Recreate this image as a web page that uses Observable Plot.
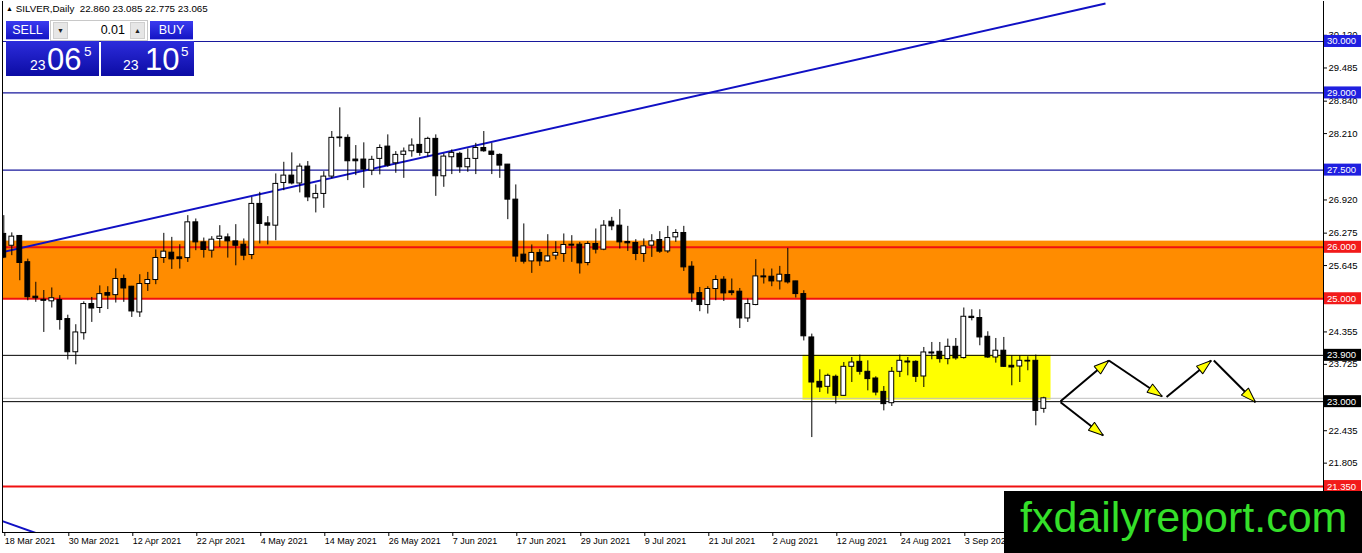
<!DOCTYPE html>
<html>
<head>
<meta charset="utf-8">
<script src="https://cdn.jsdelivr.net/npm/d3@7"></script>
<script src="https://cdn.jsdelivr.net/npm/@observablehq/plot@0.6"></script>
<style>
  body { margin: 0; background: #fff; font-family: "Liberation Sans", Arial, sans-serif; }
  #wrap { position: relative; width: 1362px; height: 553px; overflow: hidden; }
  #title { position: absolute; left: 6px; top: 3px; font-size: 9.8px; line-height: 12px; color: #000; white-space: pre; }
  #title .tri { font-size: 7px; vertical-align: 1px; }
  .btn { position: absolute; top: 21px; width: 43px; height: 18px; color: #fff; font-size: 12.5px; line-height: 18px;
         text-align: center; background: linear-gradient(#3b3bf0, #1414c4); border-bottom: 1px solid #a8a8f4; }
  #spin { position: absolute; left: 50px; top: 20px; width: 98px; height: 21px; background: #fff;
          border: 1px solid #c8c8c8; box-sizing: border-box; }
  #spin .b { position: absolute; top: 1px; width: 15px; height: 17px; background: #e6e6e6; border: 1px solid #cfcfcf;
             box-sizing: border-box; font-size: 7px; line-height: 15px; text-align: center; color: #222; }
  #spin .v { position: absolute; right: 22px; top: 1px; font-size: 12.5px; line-height: 17px; color: #000; }
  .price { position: absolute; top: 41px; width: 93px; height: 35px; color: #fff;
           background: linear-gradient(#2c2cdc, #0c0ca4); }
  .price span { position: absolute; line-height: 1; white-space: pre; }
  .price .s { font-size: 14px; top: 17px; }
  .price .m { font-size: 31px; top: 3px; }
  .price .p { font-size: 13.5px; top: 4px; }
  #brand { position: absolute; left: 1004px; top: 491px; width: 358px; height: 62px; background: #000; }
  #brand span { position: absolute; left: 16px; top: 5px; font-size: 43px; line-height: 1; color: #35e02a; white-space: pre; }
</style>
</head>
<body>
<div id="wrap">
  <div id="chart"></div>
  <div id="title"></div>
  <div class="btn" style="left:6px">SELL</div>
  <div id="spin">
    <div class="b" style="left:2px">&#9660;</div>
    <div class="v">0.01</div>
    <div class="b" style="right:2px">&#9650;</div>
  </div>
  <div class="btn" style="left:150px">BUY</div>
  <div class="price" id="bidBox" style="left:6px"></div>
  <div class="price" id="askBox" style="left:101px"></div>
  <div id="brand"><span>fxdailyreport.com</span></div>
</div>
<script>
// SILVER daily bars, 18 Mar 2021 -> 16 Sep 2021 (bar index = position in arrays)
const barOpen = [
  26.26, 26.03, 26.22, 25.71, 25.04, 24.98, 24.95, 24.975, 24.605, 23.96,
  24.33, 24.897, 24.82, 25.11, 25.07, 25.384, 25.234, 24.734, 25.286, 25.364,
  25.792, 25.895, 25.804, 25.79, 26.485, 26.096, 25.934, 26.162, 26.193, 26.115,
  26.05, 25.85, 26.843, 26.465, 26.42, 27.25, 27.393, 27.24, 27.568, 26.952,
  27.037, 27.374, 28.12, 28.127, 27.705, 27.705, 27.49, 27.718, 27.957, 27.633,
  27.796, 27.866, 27.99, 27.835, 28.107, 27.38, 27.75, 27.816, 27.555, 27.718,
  27.93, 27.86, 27.796, 27.607, 26.926, 25.857, 25.726, 25.89, 25.726, 25.837,
  25.87, 26.051, 26.051, 25.695, 26.064, 25.954, 26.498, 26.42, 26.103, 26.084,
  25.87, 26.032, 26.142, 25.92, 26.193, 26.278, 25.623, 25.11, 24.878, 25.189,
  25.37, 25.143, 25.137, 24.617, 24.878, 25.434, 25.428, 25.337, 25.461, 25.337,
  25.091, 24.248, 23.385, 23.288, 23.483, 23.113, 23.677, 23.774, 23.58, 23.45,
  23.19, 22.97, 23.58, 23.78, 23.774, 23.489, 23.956, 23.969, 23.827, 24.066,
  23.847, 24.65, 24.625, 24.261, 23.858, 23.99, 23.697, 23.683, 23.794, 23.794,
  22.86
];
const barHigh = [
  26.615, 26.28, 26.23, 25.77, 25.32, 25.16, 25.21, 25.06, 24.68, 24.495,
  24.94, 25.025, 25.25, 25.234, 25.58, 25.46, 25.24, 25.467, 25.512, 25.948,
  26.271, 26.193, 26.05, 26.615, 26.55, 26.18, 26.207, 26.42, 26.259, 26.44,
  26.162, 26.97, 27.068, 26.596, 27.426, 27.652, 27.835, 27.62, 27.666, 27.212,
  27.47, 28.25, 28.71, 28.185, 27.977, 28.03, 27.769, 27.99, 28.185, 27.86,
  27.93, 28.107, 28.516, 28.139, 28.185, 27.816, 27.893, 27.847, 27.912, 28.02,
  28.25, 28.02, 27.816, 27.61, 27.212, 26.454, 26.045, 25.954, 26.245, 26.109,
  26.259, 26.226, 26.096, 26.109, 26.356, 26.518, 26.582, 26.732, 26.407, 26.148,
  26.162, 26.245, 26.304, 26.407, 26.343, 26.407, 25.72, 25.22, 25.234, 25.448,
  25.428, 25.384, 25.2, 24.995, 25.759, 25.578, 25.578, 25.629, 25.979, 25.34,
  25.156, 24.313, 23.619, 23.535, 23.516, 23.761, 23.858, 23.905, 23.794, 23.483,
  23.294, 23.664, 23.905, 23.858, 23.794, 24.053, 24.15, 24.15, 24.216, 24.228,
  24.82, 24.786, 24.786, 24.358, 24.228, 24.248, 23.891, 23.891, 23.872, 23.905,
  23.085
];
const barLow = [
  25.78, 25.837, 25.35, 24.96, 24.93, 24.345, 24.82, 24.39, 23.81, 23.716,
  24.197, 24.54, 24.715, 24.79, 24.917, 24.93, 24.637, 24.637, 25.142, 25.273,
  25.687, 25.57, 25.577, 25.706, 25.934, 25.79, 25.79, 25.998, 25.79, 25.64,
  25.74, 25.76, 26.065, 26.045, 26.128, 27.1, 27.212, 27.057, 26.887, 26.668,
  26.757, 27.33, 27.944, 27.296, 27.393, 27.146, 27.393, 27.407, 27.555, 27.438,
  27.34, 27.75, 27.77, 27.75, 26.99, 27.166, 27.413, 27.438, 27.458, 27.413,
  27.847, 27.413, 27.34, 26.537, 25.707, 25.675, 25.493, 25.629, 25.707, 25.753,
  25.707, 25.707, 25.48, 25.64, 25.87, 25.934, 26.323, 25.967, 25.92, 25.74,
  25.707, 25.804, 25.882, 25.882, 26.096, 25.531, 24.93, 24.748, 24.703, 24.962,
  24.948, 25.058, 24.422, 24.54, 24.864, 25.286, 25.234, 25.17, 25.286, 25.014,
  24.18, 22.302, 23.177, 23.146, 22.952, 23.1, 23.372, 23.516, 23.21, 23.113,
  22.821, 22.906, 23.47, 23.502, 23.372, 23.275, 23.814, 23.749, 23.716, 23.806,
  23.827, 24.57, 24.086, 23.84, 23.749, 23.664, 23.308, 23.372, 23.6, 22.53,
  22.775
];
const barClose = [
  25.8, 26.207, 25.695, 25.03, 25.01, 24.96, 25.01, 24.586, 23.96, 24.345,
  24.897, 24.81, 25.09, 25.06, 25.384, 25.2, 24.753, 25.286, 25.364, 25.792,
  25.915, 25.765, 25.77, 26.485, 26.096, 25.948, 26.148, 26.207, 26.115, 26.03,
  25.837, 26.843, 26.454, 26.42, 27.232, 27.393, 27.24, 27.568, 26.97, 27.037,
  27.374, 28.127, 28.135, 27.672, 27.672, 27.51, 27.7, 27.93, 27.588, 27.796,
  27.86, 27.977, 27.835, 28.107, 27.38, 27.763, 27.835, 27.555, 27.718, 27.93,
  27.866, 27.796, 27.588, 26.926, 25.82, 25.72, 25.89, 25.726, 25.823, 25.89,
  26.045, 26.032, 25.687, 26.064, 25.954, 26.42, 26.407, 26.096, 26.077, 25.87,
  26.018, 26.115, 25.915, 26.18, 26.278, 25.61, 25.104, 24.878, 25.189, 25.364,
  25.104, 25.11, 24.617, 24.897, 25.434, 25.415, 25.337, 25.467, 25.318, 25.091,
  24.27, 23.372, 23.275, 23.502, 23.113, 23.677, 23.761, 23.58, 23.438, 23.177,
  22.952, 23.58, 23.794, 23.761, 23.483, 23.956, 23.936, 23.827, 24.066, 23.84,
  24.65, 24.625, 24.248, 23.858, 23.99, 23.677, 23.664, 23.794, 23.78, 22.821,
  23.065
];

const dateTickBars = [0, 8, 16, 24, 32, 40, 48, 56, 64, 72, 80, 88, 96, 104, 112, 120];
const dateTickLabels = ["18 Mar 2021", "30 Mar 2021", "12 Apr 2021", "22 Apr 2021", "4 May 2021", "14 May 2021",
  "26 May 2021", "7 Jun 2021", "17 Jun 2021", "29 Jun 2021", "9 Jul 2021", "21 Jul 2021", "2 Aug 2021",
  "12 Aug 2021", "24 Aug 2021", "3 Sep 2021"];
const priceTicks = [30.12, 29.485, 28.84, 28.21, 26.92, 26.275, 25.645, 24.355, 23.725, 22.435, 21.805];

// horizontal levels drawn on the chart
const blueLevels = [30, 29, 27.5];
const redLevels = [26, 25, 21.35];
const blackLevels = [23.9, 23];
const bid = 23.065;
const ask = 23.105;

// supply zone (orange) and consolidation box (yellow)
const zoneLow = 24.99, zoneHigh = 26.12;
const boxFromBar = 99.9, boxToBar = 130.9, boxLow = 23.03, boxHigh = 23.9;

// trend lines as [bar, price] anchors
const trendLines = [
  {from: [-0.41, 25.898], to: [137.71, 30.738]},
  {from: [-0.41, 20.69], to: [4.21, 20.436]}
];

// projected path arrows [bar, price]
const arrowFrom = [[132.09, 23.008], [138.13, 23.8], [145.34, 23.09], [151.25, 23.8], [132.09, 22.99]];
const arrowTo = [[138.13, 23.8], [144.8, 23.1], [150.93, 23.8], [156.46, 22.99], [137.43, 22.342]];

const xDomain = [-0.1625, 164.96];
const yDomain = [20.457, 30.777];

const bars = barOpen.map((o, i) => ({i, open: o, high: barHigh[i], low: barLow[i], close: barClose[i]}));
const arrows = arrowFrom.map((f, k) => ({x1: f[0], y1: f[1], x2: arrowTo[k][0], y2: arrowTo[k][1]}));
const f3 = d3.format(".3f");

// title and the trade panel
const last = bars[bars.length - 1];
document.getElementById("title").innerHTML =
  '<span class="tri">&#9650;</span> SILVER,Daily  ' + [last.open, last.high, last.low, last.close].map(f3).join(" ");

function fillPrice(el, v, pos) {
  const s = f3(v);               // "23.065"
  const big = s.slice(3, 5), small = s.slice(0, 2), pip = s.slice(5);
  el.innerHTML = '<span class="s" style="left:' + pos[0] + 'px">' + small + '</span>' +
                 '<span class="m" style="left:' + pos[1] + 'px">' + big + '</span>' +
                 '<span class="p" style="left:' + pos[2] + 'px">' + pip + '</span>';
}
fillPrice(document.getElementById("bidBox"), bid, [24, 41, 78]);
fillPrice(document.getElementById("askBox"), ask, [22, 44, 80]);

// filled yellow arrow head
function yellowHead() {
  const m = d3.create("svg:marker")
    .attr("viewBox", "-16 -6 17 12")
    .attr("markerWidth", 17)
    .attr("markerHeight", 12)
    .attr("markerUnits", "userSpaceOnUse")
    .attr("refX", 0)
    .attr("refY", 0)
    .attr("orient", "auto");
  m.append("path")
    .attr("d", "M0,0L-15,-5L-15,5Z")
    .attr("fill", "#ffff00")
    .attr("stroke", "#000")
    .attr("stroke-width", 1);
  return m.node();
}

const chart = Plot.plot({
  width: 1362,
  height: 553,
  marginTop: 1,
  marginBottom: 21,
  marginLeft: 2,
  marginRight: 39,
  x: {type: "linear", domain: xDomain, axis: null},
  y: {domain: yDomain, axis: null},
  color: {type: "identity"},
  style: {fontFamily: "'Liberation Sans', Arial, sans-serif", fontSize: "9.5px", background: "#fff", color: "#000"},
  marks: [
    Plot.rect([{lo: zoneLow, hi: zoneHigh}], {y1: "lo", y2: "hi", fill: "#ff8c00"}),
    Plot.rect([{x1: boxFromBar, x2: boxToBar, y1: boxLow, y2: boxHigh}], {x1: "x1", x2: "x2", y1: "y1", y2: "y2", fill: "#ffff00"}),
    Plot.ruleY(blueLevels, {stroke: "#18189c", strokeWidth: 1.2}),
    Plot.ruleY(redLevels, {stroke: "#f01010", strokeWidth: 2}),
    Plot.ruleY(blackLevels, {stroke: "#000", strokeWidth: 1}),
    Plot.ruleY([bid], {stroke: "#c0c0c0", strokeWidth: 1}),
    Plot.link(trendLines, {
      x1: d => d.from[0], y1: d => d.from[1], x2: d => d.to[0], y2: d => d.to[1],
      stroke: "#1010c4", strokeWidth: 2, clip: true
    }),
    Plot.ruleX(bars, {x: "i", y1: "low", y2: "high", stroke: "#000", strokeWidth: 1, clip: true}),
    Plot.rect(bars, {
      x1: d => d.i - 0.3, x2: d => d.i + 0.3, y1: "open", y2: "close",
      fill: d => d.close >= d.open ? "#fff" : "#000", stroke: "#000", strokeWidth: 1, clip: true
    }),
    Plot.link(arrows, {x1: "x1", y1: "y1", x2: "x2", y2: "y2", stroke: "#000", strokeWidth: 2, markerEnd: yellowHead}),
    Plot.ruleX([xDomain[0], xDomain[1]], {stroke: "#000"}),
    Plot.ruleY([yDomain[0]], {stroke: "#000"}),
    Plot.axisY({anchor: "right", ticks: priceTicks, tickFormat: f3, tickSize: 3, tickPadding: 2}),
    Plot.axisX({
      anchor: "bottom", ticks: dateTickBars, tickFormat: d => dateTickLabels[dateTickBars.indexOf(d)],
      textAnchor: "start", tickSize: 4, tickPadding: 1, dx: 1, fontSize: 9
    })
  ]
});

document.getElementById("chart").appendChild(chart);

// price tags on the right scale for each level
const yScale = chart.scale("y");
const tags = d3.select(chart).append("g").attr("text-anchor", "start");
const tagList = [
  ...blueLevels.map(v => ({v, bg: "#1f1fe0"})),
  ...redLevels.map(v => ({v, bg: "#f21a1a"})),
  ...blackLevels.map(v => ({v, bg: "#000"}))
];
tagList.forEach(t => {
  const yy = yScale.apply(t.v);
  tags.append("rect").attr("x", 1324).attr("y", yy - 6).attr("width", 37).attr("height", 12).attr("fill", t.bg);
  tags.append("text").attr("x", 1327).attr("y", yy + 3.5).attr("fill", "#fff")
    .attr("text-anchor", "start").attr("font-size", "9.5px").text(f3(t.v));
});
</script>
</body>
</html>
